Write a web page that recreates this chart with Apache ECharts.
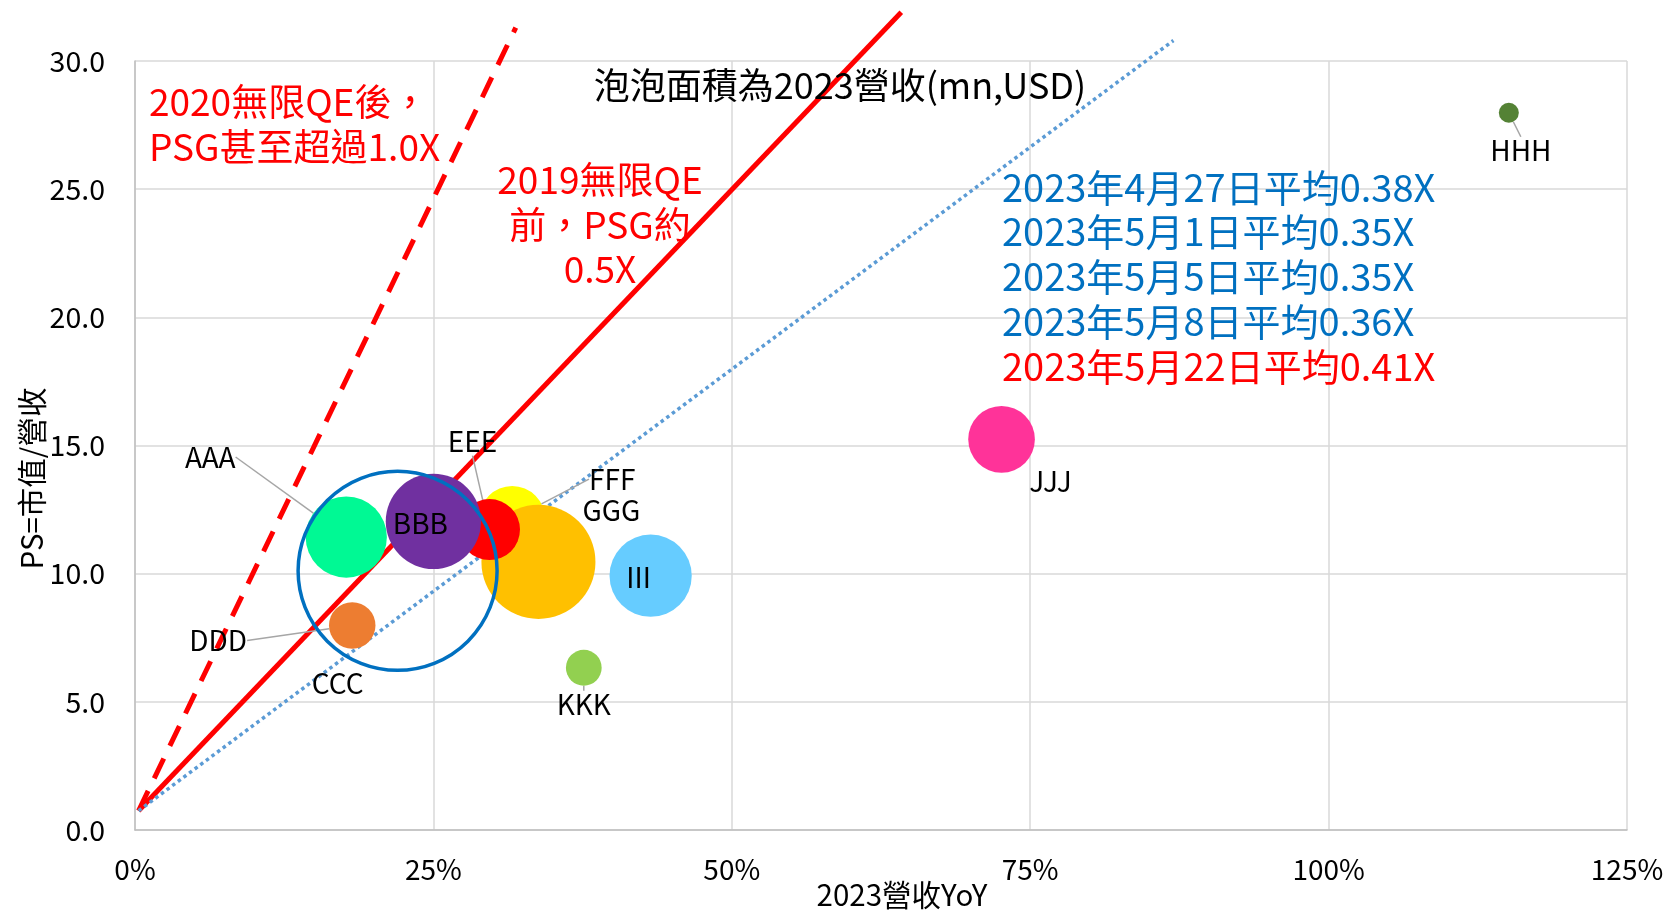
<!DOCTYPE html>
<html>
<head>
<meta charset="utf-8">
<script src="https://cdn.jsdelivr.net/npm/echarts@6/dist/echarts.min.js"></script>
<style>
  html, body { margin: 0; padding: 0; background: #fff; }
  #main { width: 1667px; height: 911px; }
</style>
</head>
<body>
<div id="main"></div>
<script>
// bubble data, drawing order (later ones are on top)
const names = ['FFF', 'GGG', 'EEE', 'AAA', 'BBB', 'DDD', 'III', 'JJJ', 'HHH', 'KKK', 'CCC']
const yoy = [31.6, 33.8, 29.7, 17.7, 25.0, 18.2, 43.2, 72.6, 115.1, 37.6, 22.0]
const ps = [12.13, 10.46, 11.72, 11.43, 12.04, 7.98, 9.92, 15.24, 27.98, 6.33, 10.11]
const revenue = [10900, 32500, 9300, 16500, 22700, 5400, 16900, 11100, 1000, 3200, 99000]

// PSG reference lines: [yoy, ps] end points
const psg10 = [[0.3, 0.75], [31.9, 31.3]]
const psg05 = [[0.3, 0.75], [64.2, 31.9]]
const psgNow = [[0.3, 0.75], [87.0, 30.8]]

const xTicks = [0, 25, 50, 75, 100, 125]
const yTicks = [0, 5, 10, 15, 20, 25, 30]

const notes = [
  '2023年4月27日平均0.38X',
  '2023年5月1日平均0.35X',
  '2023年5月5日平均0.35X',
  '2023年5月8日平均0.36X',
  '2023年5月22日平均0.41X'
]

const FONT = '"Noto Sans CJK TC", "Noto Sans", sans-serif'

const colors = {
  AAA: '#00F994', BBB: '#7030A0', CCC: 'transparent', DDD: '#ED7D31',
  EEE: '#FF0000', FFF: '#FFFF00', GGG: '#FFC000', HHH: '#548235',
  III: '#66CCFF', JJJ: '#FF3399', KKK: '#92D050'
}
// label offset from bubble centre (px)
const labelOffsets = {
  AAA: [-136, -80], BBB: [-13, 2], CCC: [-60, 113], DDD: [-134, 15],
  EEE: [-17, -88], FFF: [100, -40], GGG: [73, -52], HHH: [12, 38],
  III: [-12, 2], JJJ: [49, 42], KKK: [0, 37]
}
const leaders = ['AAA', 'DDD', 'EEE', 'FFF', 'HHH', 'KKK']

const chart = echarts.init(document.getElementById('main'))

const bubbleData = names.map((n, i) => {
  const item = {
    name: n,
    value: [yoy[i], ps[i], revenue[i]],
    itemStyle: { color: colors[n], opacity: 1 },
    labelLine: { show: leaders.indexOf(n) >= 0 }
  }
  if (n === 'CCC') {
    item.itemStyle = { color: 'rgba(0,0,0,0)', borderColor: '#0070C0', borderWidth: 3.5, opacity: 1 }
  }
  return item
})

const option = {
  backgroundColor: '#fff',
  animation: false,
  grid: { left: 135, right: 40, top: 61, bottom: 81, outerBoundsMode: 'none' },
  xAxis: {
    type: 'value',
    min: xTicks[0],
    max: xTicks[xTicks.length - 1],
    interval: 25,
    name: '2023營收YoY',
    nameLocation: 'middle',
    nameGap: 50,
    nameMoveOverlap: false,
    nameTextStyle: { fontFamily: FONT, fontSize: 29.5, color: '#000', padding: [0, 0, 0, 42] },
    axisLine: { show: true, lineStyle: { color: '#BFBFBF', width: 1.5 } },
    axisTick: { show: false },
    axisLabel: { formatter: '{value}%', fontFamily: FONT, fontSize: 28, color: '#000', margin: 25 },
    splitLine: { show: true, lineStyle: { color: '#D9D9D9', width: 1.5 } }
  },
  yAxis: {
    type: 'value',
    min: yTicks[0],
    max: yTicks[yTicks.length - 1],
    interval: 5,
    name: 'PS=市值/營收',
    nameLocation: 'middle',
    nameGap: 88,
    nameMoveOverlap: false,
    nameTextStyle: { fontFamily: FONT, fontSize: 29.5, color: '#000', padding: [0, 66, 0, 0] },
    axisLine: { show: true, lineStyle: { color: '#BFBFBF', width: 1.5 } },
    axisTick: { show: false },
    axisLabel: {
      formatter: (v) => v.toFixed(1),
      fontFamily: FONT, fontSize: 28.5, color: '#000', margin: 30
    },
    splitLine: { show: true, lineStyle: { color: '#D9D9D9', width: 1.5 } }
  },
  graphic: [
    {
      type: 'text', x: 840, y: 85, z: 100,
      style: {
        text: '泡泡面積為2023營收(mn,USD)', font: '36px ' + FONT, fill: '#000',
        textAlign: 'center', textVerticalAlign: 'middle'
      }
    },
    {
      type: 'text', x: 149, y: 79, z: 100,
      style: {
        text: '2020無限QE後，\nPSG甚至超過1.0X', font: '37px ' + FONT, fill: '#FF0000',
        lineHeight: 45, textAlign: 'left', textVerticalAlign: 'top'
      }
    },
    {
      type: 'text', x: 600, y: 158, z: 100,
      style: {
        text: '2019無限QE\n前，PSG約\n0.5X', font: '37px ' + FONT, fill: '#FF0000',
        lineHeight: 44.5, textAlign: 'center', textVerticalAlign: 'top'
      }
    },
    {
      type: 'text', x: 1002, y: 165, z: 100,
      style: {
        text: notes.map((t, i) => (i === notes.length - 1 ? '{r|' : '{b|') + t + '}').join('\n'),
        rich: {
          b: { font: '38px ' + FONT, fill: '#0070C0', lineHeight: 44.7 },
          r: { font: '38px ' + FONT, fill: '#FF0000', lineHeight: 44.7 }
        },
        textAlign: 'left', textVerticalAlign: 'top'
      }
    }
  ],
  series: [
    {
      type: 'line', data: psg10, symbol: 'none', clip: false, z: 1,
      lineStyle: { color: '#FF0000', width: 5, type: [22, 14] }
    },
    {
      type: 'line', data: psg05, symbol: 'none', clip: false, z: 1,
      lineStyle: { color: '#FF0000', width: 5 }
    },
    {
      type: 'line', data: psgNow, symbol: 'none', clip: false, z: 1,
      lineStyle: { color: '#5B9BD5', width: 3.5, type: [3.5, 3.5] }
    },
    {
      type: 'scatter',
      z: 3,
      data: bubbleData,
      symbolSize: (v) => 20 * Math.sqrt(v[2] / 1000),
      itemStyle: { opacity: 1 },
      label: {
        show: true,
        position: 'inside',
        formatter: '{b}',
        fontFamily: FONT,
        fontSize: 28,
        color: '#000'
      },
      labelLine: { show: false, lineStyle: { color: '#A6A6A6', width: 1.5 } },
      labelLayout: (params) => {
        const o = labelOffsets[names[params.dataIndex]]
        return { dx: o[0], dy: o[1] }
      },
      emphasis: { disabled: true }
    }
  ]
}
chart.setOption(option)
</script>
</body>
</html>
